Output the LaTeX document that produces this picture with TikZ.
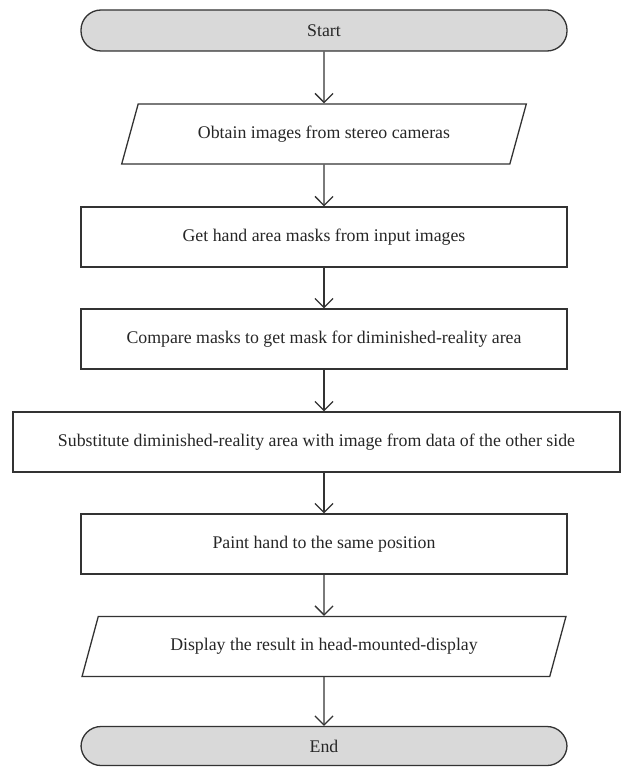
\documentclass[tikz,border=0pt]{standalone}
\usepackage{fontspec}
\setmainfont{Liberation Serif}
\usetikzlibrary{shapes.geometric,arrows.meta}
\begin{document}
\begin{tikzpicture}[x=1pt,y=1pt,
  every node/.style={font=\fontsize{17.8}{20}\selectfont, text=black!85},
  base/.style={draw=black!80, line width=1.3pt, inner sep=0pt},
  term/.style={base, rectangle, rounded corners=20pt, fill=black!15, minimum width=486pt, minimum height=41pt},
  proc/.style={base, rectangle, minimum width=486pt, minimum height=60pt},
  io/.style={base, trapezium, trapezium left angle=55.7, trapezium right angle=124.3, trapezium stretches=true, minimum height=60pt},
  flow/.style={draw=black!80, line width=1.3pt, -{Straight Barb[length=9pt,width=18pt,line width=1.3pt]}}
]
\useasboundingbox (0,0) rectangle (622,-767);
\node[term] (start) at (324,-30.5) {Start};
\node[io, minimum width=406pt] (p1) at (324,-134) {Obtain images from stereo cameras};
\node[proc] (b2) at (324,-237) {Get hand area masks from input images};
\node[proc] (b3) at (324,-339) {Compare masks to get mask for diminished-reality area};
\node[proc, minimum width=607pt] (b4) at (316.5,-442) {Substitute diminished-reality area with image from data of the other side};
\node[proc] (b5) at (324,-544) {Paint hand to the same position};
\node[io, minimum width=486pt] (p6) at (324,-646.5) {Display the result in head-mounted-display};
\node[term, minimum height=39pt] (end) at (324,-746) {End};
\draw[flow] (start.south) -- (p1.north);
\draw[flow] (p1.south) -- (b2.north);
\draw[flow] (b2.south) -- (b3.north);
\draw[flow] (b3.south) -- (b4.north -| b3.south);
\draw[flow] (b4.south -| b5.north) -- (b5.north);
\draw[flow] (b5.south) -- (p6.north);
\draw[flow] (p6.south) -- (end.north);
\end{tikzpicture}
\end{document}
